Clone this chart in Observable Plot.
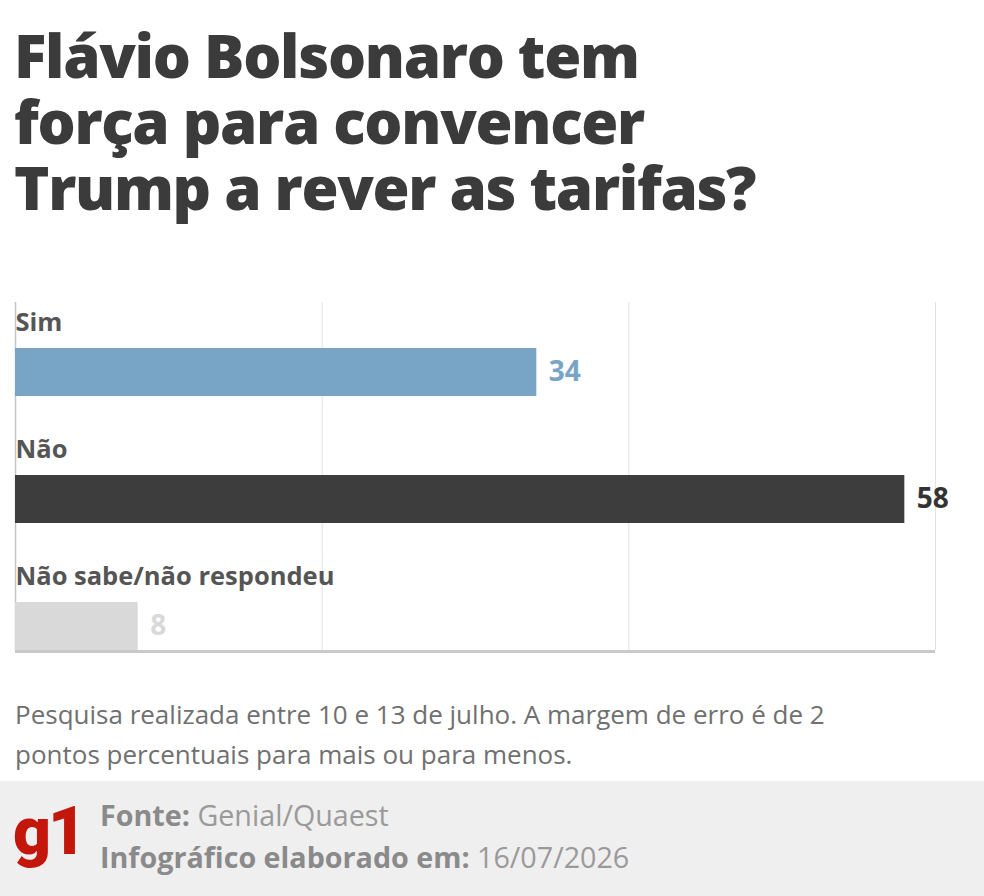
<!DOCTYPE html>
<html><head><meta charset="utf-8">
<script src="https://cdn.jsdelivr.net/npm/d3@7"></script>
<script src="https://cdn.jsdelivr.net/npm/@observablehq/plot@0.6"></script>
<style>
body{margin:0;width:984px;height:896px;background:#fff;position:relative;overflow:hidden;font-family:"Open Sans","Noto Sans",sans-serif;}
#title{position:absolute;left:14px;top:22px;font-size:60px;font-weight:800;color:#3b3b3b;margin:0;letter-spacing:-1.3px;}
#title div{height:66px;line-height:66px;white-space:nowrap;}
#chart{position:absolute;left:0;top:280px;}
#caption{position:absolute;left:15px;top:694px;font-size:26px;color:#707070;}
#caption div{height:40px;line-height:40px;white-space:nowrap;}
#footer{position:absolute;left:0;top:781px;width:984px;height:115px;background:#efefef;}
#logo{position:absolute;left:13px;top:11px;font-size:66px;font-weight:900;color:#c4170c;letter-spacing:-3px;line-height:80px;font-family:Roboto,sans-serif;}
#src{position:absolute;left:100px;top:13px;font-size:28.7px;color:#9a9a9a;}
#src div{height:42px;line-height:42px;white-space:nowrap;}
#src b{color:#8a8a8a;font-weight:700;}
</style></head>
<body>
<h1 id="title"><div>Flávio Bolsonaro tem</div><div>força para convencer</div><div>Trump a rever as tarifas?</div></h1>
<div id="chart"></div>
<div id="caption"><div>Pesquisa realizada entre 10 e 13 de julho. A margem de erro é de 2</div><div>pontos percentuais para mais ou para menos.</div></div>
<div id="footer"><div id="logo">g1</div><div id="src"><div><b>Fonte:</b> Genial/Quaest</div><div><b>Infográfico elaborado em:</b> 16/07/2026</div></div></div>
<script>
const categories = ["Sim", "Não", "Não sabe/não respondeu"];
const values = [34, 58, 8];
const barColors = ["#78a5c6", "#3d3d3d", "#d9d9d9"];
const valueColors = ["#78a5c6", "#333333", "#d9d9d9"];
const gridTicks = [20, 40, 60];

const data = categories.map((c, i) => ({cat: c, value: values[i], fill: barColors[i], tc: valueColors[i]}));

const chart = Plot.plot({
  width: 984,
  height: 380,
  marginTop: 22,
  marginBottom: 10,
  marginLeft: 15,
  marginRight: 49,
  style: {fontFamily: "'Open Sans', 'Noto Sans', sans-serif", background: "transparent"},
  x: {domain: [0, 60], axis: null},
  y: {type: "band", domain: categories, range: [-8, 373], paddingInner: 0, paddingOuter: 0, round: false, axis: null},
  marks: [
    Plot.ruleX(gridTicks, {stroke: "#e2e2e2", strokeWidth: 1}),
    Plot.ruleX([0], {stroke: "#c4c4c4", strokeWidth: 1.5}),
    Plot.barX(data, {y: "cat", x1: 0, x2: "value", fill: "fill", insetTop: 76, insetBottom: 3}),
    Plot.barX([categories[2]], {y: d => d, x1: 0, x2: 60, fill: "#c9c9c9", insetTop: 124}),
    Plot.text(data, {x: 0, y: "cat", text: "cat", textAnchor: "start", lineAnchor: "bottom", dy: -5.5, fontSize: 25.5, fontWeight: 700, fill: "#555555"}),
    Plot.text(data, {x: "value", y: "cat", text: d => String(d.value), textAnchor: "start", lineAnchor: "middle", dx: 12, dy: 36.5, fontSize: 28, fontWeight: 700, fill: "tc"})
  ]
});
document.getElementById("chart").appendChild(chart);
</script>
</body></html>
